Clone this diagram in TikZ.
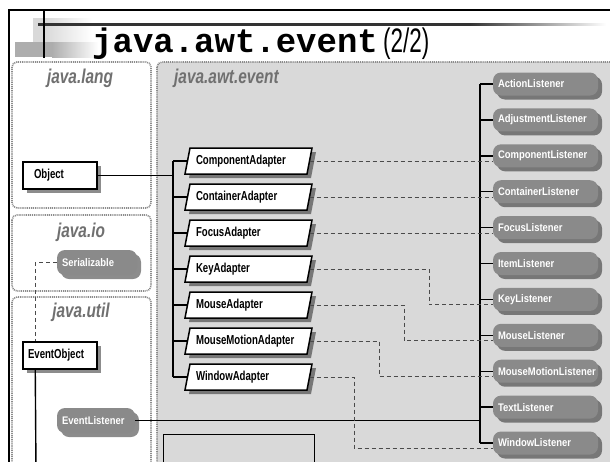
\documentclass[tikz,border=0pt]{standalone}
\usepackage{fontspec}
\usetikzlibrary{shadows}
\newfontfamily\condfont{Liberation Sans}[FakeStretch=0.74]
\newfontfamily\lisfont{Liberation Sans}[FakeStretch=0.86]
\newfontfamily\pkgfont{Liberation Sans}[FakeStretch=0.77]
\newfontfamily\titlemono{Liberation Mono}
\newfontfamily\titlesans{Liberation Sans}[FakeStretch=0.66]
\definecolor{awtgray}{HTML}{D9D9D9}
\definecolor{lisgray}{HTML}{8A8A8A}
\definecolor{pkggray}{HTML}{707070}
\definecolor{dotgray}{HTML}{8C8C8C}
\definecolor{dashgray}{HTML}{4A4A4A}
\begin{document}
\begin{tikzpicture}[x=1pt,y=-1pt,
  pkgbox/.style={draw=dotgray, line width=1.6pt, dash pattern=on 1pt off 0.9pt, rounded corners=5pt},
  pkglabel/.style={inner sep=0, text=pkggray, font=\pkgfont\bfseries\itshape\fontsize{20}{20}\selectfont},
  shad/.style={drop shadow={shadow xshift=4pt, shadow yshift=-4pt, fill=black, opacity=0.45}},
  classbox/.style={rectangle, draw, line width=1.5pt, fill=white, minimum height=27pt, inner ysep=0pt, align=left, shad,
    font=\condfont\bfseries\fontsize{13}{13}\selectfont},
  adaptershape/.style={draw, line width=1.5pt, fill=white, shad},
  adapter/.style={rectangle, minimum width=122pt, minimum height=26pt, inner ysep=0pt, inner xsep=8.5pt,
    text width=105pt, align=left, font=\condfont\bfseries\fontsize{13}{13}\selectfont},
  lisbox/.style={rectangle, rounded corners=8pt, fill=lisgray, text=white, minimum height=23pt, inner ysep=0pt,
    inner xsep=5pt, align=left, shad, font=\lisfont\bfseries\fontsize{11}{11}\selectfont},
  conn/.style={line width=1.4pt, black},
  dashline/.style={line width=1pt, dashgray, dash pattern=on 4pt off 3pt}]
\useasboundingbox (0,0) rectangle (610,461);
\clip (0,0) rectangle (610,461);
\fill[white] (0,0) rectangle (610,461);
% decoration
\fill[black!15] (33,18) rectangle (44,42);
\shade[left color=black!15, right color=white] (44,18) rectangle (92,42);
\fill[black!32] (15,42) rectangle (52,57);
\shade[left color=black!32, right color=white] (52,42) rectangle (98,57);
\fill[black!80] (38,23) rectangle (470,25.5);
\shade[left color=black!80, right color=white] (470,23) rectangle (606,25.5);
\draw[line width=1.5pt] (44,10) -- (44,58);
\draw[line width=2pt] (9,470) -- (9,10) -- (620,10);
% title
\node[anchor=base west, inner sep=0, font=\titlemono\bfseries\fontsize{34}{34}\selectfont] (title) at (92,52) {java.awt.event};
\node[anchor=base west, inner sep=0, font=\titlesans\fontsize{34}{34}\selectfont] (titlepart) at (383,52) {(2/2)};
% package boxes
\draw[pkgbox, fill=awtgray] (157,62) rectangle (625,480);
\draw[pkgbox, fill=white] (12,62) rectangle (151,208);
\draw[pkgbox, fill=white] (12,215) rectangle (151,291);
\draw[pkgbox, fill=white] (12,297) rectangle (151,480);
\node[pkglabel, anchor=base] (lang) at (80,83) {java.lang};
\node[pkglabel, anchor=base] (io) at (81,237) {java.io};
\node[pkglabel, anchor=base] (util) at (81,317) {java.util};
\node[pkglabel, anchor=base west] (awt) at (174,83) {java.awt.event};
% empty box at bottom
\draw[line width=0.8pt] (163,480) -- (163,434) -- (314,434) -- (314,480);
% left column nodes
\node[classbox, inner xsep=11pt, text width=52pt] (Object) at (60,175.5) {Object};
\node[classbox, inner xsep=5pt, text width=64pt] (EvO) at (60,355.5) {EventObject};
\node[lisbox, minimum width=80pt, text width=70pt, minimum height=25pt] (Ser) at (97,262.5) {Serializable};
\node[lisbox, minimum width=78pt, text width=68pt, minimum height=25pt] (EvL) at (96,420.5) {EventListener};
% adapters: parallelogram outlines, then their texts
\foreach \y in {161,197,233,269,305,341,377}
  \draw[adaptershape] (185,\y+13) -- (190,\y-13) -- (312,\y-13) -- (307,\y+13) -- cycle;
\node[adapter] (CompA) at (248.5,161) {ComponentAdapter};
\node[adapter] (ContA) at (248.5,197) {ContainerAdapter};
\node[adapter] (FocA) at (248.5,233) {FocusAdapter};
\node[adapter] (KeyA) at (248.5,269) {KeyAdapter};
\node[adapter] (MouA) at (248.5,305) {MouseAdapter};
\node[adapter] (MMA) at (248.5,341) {MouseMotionAdapter};
\node[adapter] (WinA) at (248.5,377) {WindowAdapter};
% listeners
\foreach \n/\t [count=\i from 0] in {ActL/ActionListener, AdjL/AdjustmentListener, CompL/ComponentListener,
  ContL/ContainerListener, FocL/FocusListener, ItemL/ItemListener, KeyL/KeyListener, MouL/MouseListener,
  MML/MouseMotionListener, TextL/TextListener, WinL/WindowListener}
  \node[lisbox, minimum width=105pt, text width=95pt] (\n) at (545.5,{84+35.9*\i}) {\t};
% trunk coordinates
\coordinate (ta) at (173,0);
\coordinate (tl) at (480,0);
\coordinate (kx) at (429,0);
\coordinate (mx) at (404,0);
\coordinate (mmx) at (379,0);
\coordinate (wx) at (354,0);
\coordinate (eobot) at (36,470);
% solid connectors
\draw[conn] (Object.east) -- (Object.east -| ta);
\draw[conn] (ta |- CompA.west) -- (ta |- WinA.west);
\foreach \a in {CompA,ContA,FocA,KeyA,MouA,MMA,WinA}
  \draw[conn] (ta |- \a.west) -- (\a.west);
\draw[conn] (tl |- ActL.west) -- (tl |- WinL.west);
\foreach \l in {ActL,AdjL,CompL,ContL,FocL,ItemL,KeyL,MouL,MML,TextL,WinL}
  \draw[conn] (tl |- \l.west) -- (\l.west);
\draw[conn] (EvL.east) -- (EvL.east -| tl);
\draw[conn] ([xshift=13pt]EvO.south west) -- (eobot);
% dashed connectors
\draw[dashline] (Ser.west) -| ([xshift=13pt]EvO.north west);
\draw[dashline] (CompA.east) -- (CompA.east -| CompL.west);
\draw[dashline] (ContA.east) -- (ContA.east -| ContL.west);
\draw[dashline] (FocA.east) -- (FocA.east -| FocL.west);
\draw[dashline] (KeyA.east) -- (KeyA.east -| kx) |- ([yshift=-5pt]KeyL.west);
\draw[dashline] (MouA.east) -- (MouA.east -| mx) |- ([yshift=-5pt]MouL.west);
\draw[dashline] (MMA.east) -- (MMA.east -| mmx) |- ([yshift=-5pt]MML.west);
\draw[dashline] (WinA.east) -- (WinA.east -| wx) |- ([yshift=-5pt]WinL.west);
\end{tikzpicture}
\end{document}
